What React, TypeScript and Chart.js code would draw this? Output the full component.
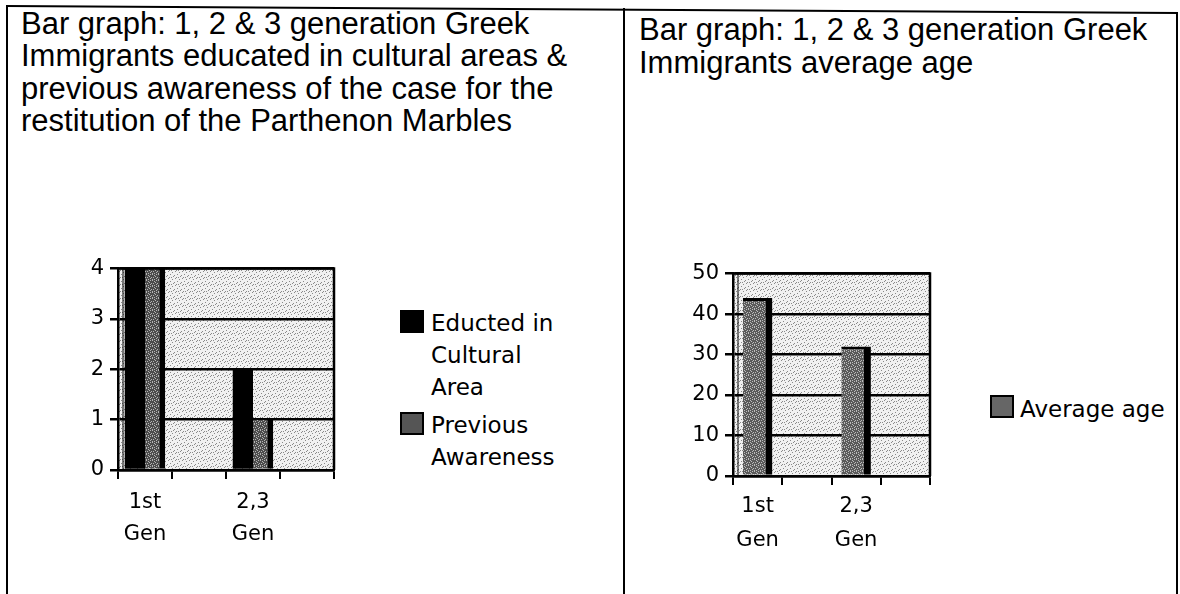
import React, { useEffect, useRef } from 'react';
import { Chart, registerables } from 'chart.js';

Chart.register(...registerables);

// ---------- data ----------
const leftCategories: (string | string[])[] = [['1st', 'Gen'], '', ['2,3', 'Gen'], ''];
const educatedValues: (number | null)[] = [4, null, 2, null];
const awarenessValues: (number | null)[] = [4, null, 1, null];
const leftTickValues = [0, 1, 2, 3, 4];

const rightCategories: (string | string[])[] = [['1st', 'Gen'], '', ['2,3', 'Gen'], ''];
const averageAgeValues: (number | null)[] = [44, null, 32, null];
const rightTickValues = [0, 10, 20, 30, 40, 50];

const leftTitleLines = [
  'Bar graph: 1, 2 & 3 generation Greek',
  'Immigrants educated in cultural areas &',
  'previous awareness of the case for the',
  'restitution of the Parthenon Marbles',
];
const rightTitleLines = ['Bar graph: 1, 2 & 3 generation Greek', 'Immigrants average age'];

const educatedLabel = ['Educted in', 'Cultural', 'Area'];
const awarenessLabel = ['Previous', 'Awareness'];
const averageAgeLabel = 'Average age';

// ---------- styling helpers ----------
const FONT = '"DejaVu Sans", Verdana, sans-serif';
const TITLE_FONT = '"Liberation Sans", Arial, Helvetica, sans-serif';

function makePattern(base: string, dot: string, dots: [number, number][], size: number) {
  const c = document.createElement('canvas');
  c.width = size;
  c.height = size;
  const g = c.getContext('2d')!;
  g.fillStyle = base;
  g.fillRect(0, 0, size, size);
  g.fillStyle = dot;
  dots.forEach(([x, y]) => g.fillRect(x, y, 1, 1));
  return g.createPattern(c, 'repeat')!;
}

const bgDots: [number, number][] = [[1, 0], [5, 1], [3, 3], [0, 4], [6, 5], [2, 6], [4, 6]];
const barDots: [number, number][] = [[0, 0], [2, 1], [4, 0], [1, 3], [3, 2], [0, 5], [4, 4], [2, 5], [5, 3]];

const plotPlugin = {
  id: 'plotWall',
  beforeDraw(chart: any, _a: any, opts: any) {
    const { ctx, chartArea: a } = chart;
    ctx.save();
    ctx.fillStyle = opts.fill;
    ctx.fillRect(a.left, a.top, a.right - a.left, a.bottom - a.top);
    ctx.restore();
  },
  afterDatasetsDraw(chart: any) {
    const { ctx, chartArea: a } = chart;
    ctx.save();
    ctx.strokeStyle = '#000';
    ctx.lineWidth = 2.5;
    ctx.beginPath();
    ctx.moveTo(a.left, a.top);
    ctx.lineTo(a.right, a.top);
    ctx.lineTo(a.right, a.bottom);
    ctx.stroke();
    ctx.lineWidth = 1;
    ctx.beginPath();
    ctx.moveTo(a.left + 5, a.top);
    ctx.lineTo(a.left + 5, a.bottom);
    ctx.stroke();
    ctx.restore();
  },
};

function xScale(height: number, padding: number, lineHeight: number) {
  return {
    grid: { display: true, drawOnChartArea: false, drawTicks: true, tickLength: 9, color: '#000', lineWidth: 2, offset: true },
    border: { display: true, color: '#000', width: 2.5 },
    ticks: { color: '#000', font: { family: FONT, size: 21, lineHeight }, padding, maxRotation: 0, minRotation: 0, autoSkip: false },
    afterFit: (s: any) => {
      s.height = height;
    },
  };
}

function yScale(values: number[], width: number) {
  return {
    min: values[0],
    max: values[values.length - 1],
    afterBuildTicks: (s: any) => {
      s.ticks = values.map((v) => ({ value: v }));
    },
    grid: { color: '#000', lineWidth: 2.5, tickLength: 8, drawTicks: true },
    border: { color: '#000', width: 2.5 },
    ticks: { color: '#000', font: { family: FONT, size: 21 }, padding: 6 },
    afterFit: (s: any) => {
      s.width = width;
    },
  };
}

function LeftChart() {
  const ref = useRef<HTMLCanvasElement>(null);
  useEffect(() => {
    const bg = makePattern('#f1f1f1', '#8a8a8a', bgDots, 7);
    const bar = makePattern('#4c4c4c', '#b4b4b4', barDots, 6);
    const chart = new Chart(ref.current!, {
      type: 'bar',
      data: {
        labels: leftCategories,
        datasets: [
          {
            label: educatedLabel.join(' '),
            data: educatedValues,
            backgroundColor: '#000',
            borderWidth: 0,
            barPercentage: 1,
            categoryPercentage: 0.75,
          },
          {
            label: awarenessLabel.join(' '),
            data: awarenessValues,
            backgroundColor: bar,
            borderColor: '#000',
            borderWidth: { top: 0, right: 6, bottom: 0, left: 0 },
            borderSkipped: false,
            barPercentage: 1,
            categoryPercentage: 0.75,
          },
        ],
      },
      options: {
        responsive: false,
        animation: false,
        events: [],
        layout: { padding: { top: 14, right: 16, left: 0, bottom: 0 } },
        plugins: { legend: { display: false }, title: { display: false }, tooltip: { enabled: false }, plotWall: { fill: bg } } as any,
        scales: {
          x: xScale(90, 8, 1.5) as any,
          y: yScale(leftTickValues, 98) as any,
        },
      },
      plugins: [plotPlugin],
    });
    return () => chart.destroy();
  }, []);
  return <canvas ref={ref} width={330} height={310} style={{ position: 'absolute', left: 20, top: 250 }} />;
}

function RightChart() {
  const ref = useRef<HTMLCanvasElement>(null);
  useEffect(() => {
    const bg = makePattern('#f1f1f1', '#8a8a8a', bgDots, 7);
    const bar = makePattern('#5a5a5a', '#bcbcbc', barDots, 6);
    const chart = new Chart(ref.current!, {
      type: 'bar',
      data: {
        labels: rightCategories,
        datasets: [
          {
            label: averageAgeLabel,
            data: averageAgeValues,
            backgroundColor: bar,
            borderColor: '#000',
            borderWidth: { top: 3, right: 7, bottom: 0, left: 0 },
            borderSkipped: false,
            barPercentage: 0.6,
            categoryPercentage: 1,
          },
        ],
      },
      options: {
        responsive: false,
        animation: false,
        events: [],
        layout: { padding: { top: 17, right: 10, left: 0, bottom: 0 } },
        plugins: { legend: { display: false }, title: { display: false }, tooltip: { enabled: false }, plotWall: { fill: bg } } as any,
        scales: {
          x: xScale(99, 4, 1.65) as any,
          y: yScale(rightTickValues, 93) as any,
        },
      },
      plugins: [plotPlugin],
    });
    return () => chart.destroy();
  }, []);
  return <canvas ref={ref} width={300} height={320} style={{ position: 'absolute', left: 640, top: 255 }} />;
}

const line = (style: React.CSSProperties) => <div style={{ position: 'absolute', background: '#000', ...style }} />;

export default function App() {
  const legendText: React.CSSProperties = {
    position: 'absolute',
    fontFamily: FONT,
    fontSize: 23,
    lineHeight: '32px',
    color: '#000',
    whiteSpace: 'nowrap',
  };
  const titleText: React.CSSProperties = {
    position: 'absolute',
    fontFamily: TITLE_FONT,
    fontSize: 31,
    lineHeight: '32.5px',
    color: '#000',
    whiteSpace: 'nowrap',
  };
  return (
    <div style={{ position: 'fixed', left: 0, top: 0, width: 1180, height: 594, background: '#fff', overflow: 'hidden' }}>
      {line({ left: 6, top: 5, width: 1172, height: 2, transform: 'rotate(0.34deg)', transformOrigin: '0 0' })}
      {line({ left: 6, top: 5, width: 2, height: 600 })}
      {line({ left: 623, top: 8, width: 2, height: 600 })}
      {line({ left: 1176, top: 12, width: 2, height: 600 })}

      <div style={{ ...titleText, left: 21, top: 7.5 }}>
        {leftTitleLines.map((t, i) => (
          <div key={i}>{t}</div>
        ))}
      </div>
      <div style={{ ...titleText, left: 639, top: 14 }}>
        {rightTitleLines.map((t, i) => (
          <div key={i}>{t}</div>
        ))}
      </div>

      <LeftChart />
      <RightChart />

      <div style={{ position: 'absolute', left: 400, top: 310, width: 24, height: 23, background: '#000' }} />
      <div style={{ ...legendText, left: 431, top: 307 }}>
        {educatedLabel.map((t, i) => (
          <div key={i}>{t}</div>
        ))}
      </div>
      <div style={{ position: 'absolute', left: 400, top: 412, width: 20, height: 19, background: '#555', border: '2px solid #000' }} />
      <div style={{ ...legendText, left: 431, top: 409 }}>
        {awarenessLabel.map((t, i) => (
          <div key={i}>{t}</div>
        ))}
      </div>

      <div style={{ position: 'absolute', left: 990, top: 395, width: 20, height: 19, background: '#666', border: '2px solid #000' }} />
      <div style={{ ...legendText, left: 1020, top: 393 }}>{averageAgeLabel}</div>
    </div>
  );
}
